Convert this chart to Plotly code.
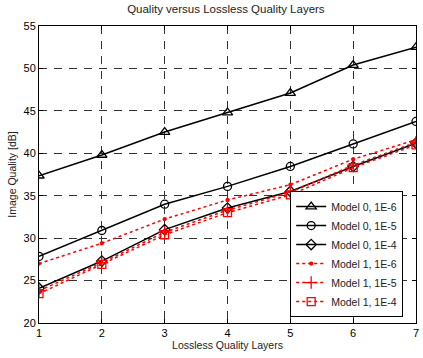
import plotly.graph_objects as go

layers = [1, 2, 3, 4, 5, 6, 7]
m0_1e6 = [37.35, 39.8, 42.5, 44.8, 47.1, 50.4, 52.5]
m0_1e5 = [27.85, 30.9, 34.0, 36.1, 38.45, 41.1, 43.75]
m0_1e4 = [24.1, 27.3, 31.0, 33.55, 35.5, 38.45, 41.2]
m1_1e6 = [27.0, 29.4, 32.25, 34.5, 36.3, 39.3, 41.6]
m1_1e5 = [23.8, 27.1, 30.7, 33.3, 35.4, 38.6, 41.3]
m1_1e4 = [23.45, 26.9, 30.4, 33.0, 35.1, 38.3, 41.0]

series = [
    ("Model 0, 1E-6", m0_1e6, "black", "solid", "triangle-up-open", 9),
    ("Model 0, 1E-5", m0_1e5, "black", "solid", "circle-open", 8),
    ("Model 0, 1E-4", m0_1e4, "black", "solid", "diamond-open", 8),
    ("Model 1, 1E-6", m1_1e6, "red", "dot", "circle", 3),
    ("Model 1, 1E-5", m1_1e5, "red", "dot", "cross-thin-open", 9),
    ("Model 1, 1E-4", m1_1e4, "red", "dot", "square-open", 8),
]

fig = go.Figure()
for name, vals, col, dash, sym, sz in series:
    fig.add_trace(go.Scatter(
        x=layers, y=vals, name=name, mode="lines+markers",
        line=dict(color=col, width=1.5, dash=dash),
        marker=dict(symbol=sym, size=sz, color=col, line=dict(color=col, width=1.3)),
    ))

axis_common = dict(
    showline=True, linecolor="black", linewidth=1, mirror="ticks",
    ticks="inside", ticklen=4, tickcolor="black",
    showgrid=True, gridcolor="#333333", griddash="8px,7px", gridwidth=1,
    zeroline=False, tickfont=dict(size=11, color="black"),
)

fig.update_layout(
    width=423, height=358,
    margin=dict(l=39, r=4, t=26, b=35),
    paper_bgcolor="white", plot_bgcolor="white",
    font=dict(family="Liberation Sans, Arial, sans-serif", size=10.5, color="#222"),
    title=dict(text="Quality versus Lossless Quality Layers", x=0.534, xanchor="center",
               y=0.985, yanchor="top", font=dict(size=11.5)),
    xaxis=dict(range=[1, 7], dtick=1, title=dict(text="Lossless Quality Layers", standoff=2, font=dict(size=10.5)), **axis_common),
    yaxis=dict(range=[20, 55], dtick=5, title=dict(text="Image Quality [dB]", standoff=4, font=dict(size=10.5)), **axis_common),
    legend=dict(x=0.966, y=0.02, xanchor="right", yanchor="bottom",
                bgcolor="white", bordercolor="black", borderwidth=1,
                font=dict(size=10.5), tracegroupgap=0, itemwidth=30),
    showlegend=True,
)

fig.write_html("out.html")
